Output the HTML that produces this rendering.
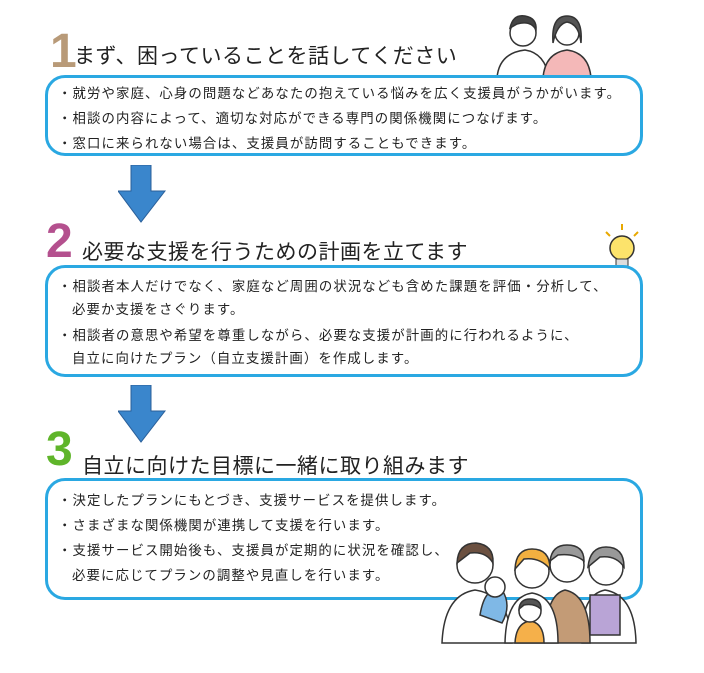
<!DOCTYPE html>
<html><head><meta charset="utf-8"><style>
body{margin:0;width:704px;height:673px;background:#fff;position:relative;overflow:hidden;font-family:"Liberation Sans","Noto Sans CJK JP",sans-serif;color:#222}
.t{position:absolute;font-size:21px;white-space:nowrap;letter-spacing:0.5px}
.n{position:absolute;font-weight:bold;font-size:48px;line-height:1;font-family:"Liberation Sans",sans-serif}
.box{position:absolute;left:45px;width:592px;border:3px solid #2aa8e2;border-radius:20px;background:#fff}
.l{position:absolute;font-size:13.4px;white-space:nowrap;letter-spacing:1.1px}
</style></head><body>
<div class="n" style="left:50px;top:28px;color:#b89a78">1</div>
<div class="t" style="left:74px;top:40px">まず、困っていることを話してください</div>
<svg style="position:absolute;left:495px;top:8px" width="100" height="72">
<g stroke="#333" stroke-width="1.5" fill="#fff">
<path d="M2 70 Q4 45 30 42 Q50 45 54 70Z"/><circle cx="28" cy="25" r="13"/><path d="M15 20 Q18 6 30 8 Q42 10 41 22 Q36 12 22 16Z" fill="#444"/>
<path d="M48 70 Q50 45 72 42 Q94 45 96 70Z" fill="#f4b8b8"/><circle cx="72" cy="25" r="12"/><path d="M58 35 Q56 8 72 8 Q88 8 86 35 Q84 16 72 14 Q62 16 58 35Z" fill="#555"/></g></svg>
<div class="box" style="top:75px;height:75px"></div>
<div class="l" style="left:58px;top:82px">・就労や家庭、心身の問題などあなたの抱えている悩みを広く支援員がうかがいます。</div>
<div class="l" style="left:58px;top:107px">・相談の内容によって、適切な対応ができる専門の関係機関につなげます。</div>
<div class="l" style="left:58px;top:132px">・窓口に来られない場合は、支援員が訪問することもできます。</div>
<svg style="position:absolute;left:118px;top:165px" width="50" height="60"><path d="M13 0H33V26H47L23 57L0 26H13Z" fill="#3a86cc" stroke="#2a5f99"/></svg>
<div class="n" style="left:46px;top:218px;color:#b4508e">2</div>
<div class="t" style="left:82px;top:236px">必要な支援を行うための計画を立てます</div>
<svg style="position:absolute;left:600px;top:222px" width="44" height="50"><g stroke="#e8a800" stroke-width="2" fill="none"><path d="M22 2V8M6 10L10 14M38 10L34 14"/></g><circle cx="22" cy="26" r="12" fill="#fce36b" stroke="#333" stroke-width="1.5"/><rect x="16" y="37" width="12" height="8" fill="#ddd" stroke="#333"/></svg>
<div class="box" style="top:265px;height:106px"></div>
<div class="l" style="left:58px;top:275px">・相談者本人だけでなく、家庭など周囲の状況なども含めた課題を評価・分析して、</div>
<div class="l" style="left:72px;top:298px">必要か支援をさぐります。</div>
<div class="l" style="left:58px;top:324px">・相談者の意思や希望を尊重しながら、必要な支援が計画的に行われるように、</div>
<div class="l" style="left:72px;top:347px">自立に向けたプラン（自立支援計画）を作成します。</div>
<svg style="position:absolute;left:118px;top:385px" width="50" height="60"><path d="M13 0H33V26H47L23 57L0 26H13Z" fill="#3a86cc" stroke="#2a5f99"/></svg>
<div class="n" style="left:46px;top:426px;color:#5fb52a">3</div>
<div class="t" style="left:82px;top:450px">自立に向けた目標に一緒に取り組みます</div>
<div class="box" style="top:478px;height:116px"></div>
<div class="l" style="left:58px;top:489px">・決定したプランにもとづき、支援サービスを提供します。</div>
<div class="l" style="left:58px;top:514px">・さまざまな関係機関が連携して支援を行います。</div>
<div class="l" style="left:58px;top:539px">・支援サービス開始後も、支援員が定期的に状況を確認し、</div>
<div class="l" style="left:72px;top:564px">必要に応じてプランの調整や見直しを行います。</div>
<svg style="position:absolute;left:440px;top:535px" width="205" height="110">
<g stroke="#333" stroke-width="1.5">
<path d="M2 108 Q4 60 35 55 Q70 60 72 108Z" fill="#fff"/><circle cx="35" cy="30" r="18" fill="#fff"/><path d="M17 28 Q18 8 36 8 Q54 10 53 28 Q46 16 30 18Z" fill="#6b5040"/>
<path d="M142 108 Q140 60 165 55 Q195 60 196 108Z" fill="#fff"/><rect x="150" y="60" width="30" height="40" fill="#b9a4d6"/><circle cx="166" cy="33" r="17" fill="#fff"/><path d="M148 32 Q150 12 166 12 Q184 12 184 32 Q176 20 160 22Z" fill="#999"/>
<path d="M105 108 Q105 60 125 55 Q150 60 150 108Z" fill="#c39b76"/><circle cx="127" cy="30" r="17" fill="#fff"/><path d="M110 26 Q112 10 127 10 Q144 10 144 26 Q134 18 118 20Z" fill="#999"/>
<path d="M65 108 Q66 62 92 58 Q118 62 118 108Z" fill="#fff"/><circle cx="92" cy="36" r="17" fill="#fff"/><path d="M75 34 Q76 14 92 14 Q110 14 110 34 Q100 22 84 24Z" fill="#f2b040"/>
<path d="M40 80 Q45 50 62 55 Q72 70 62 88Z" fill="#7fb8e6"/><circle cx="55" cy="52" r="10" fill="#fff"/>
<path d="M75 108 Q76 88 90 86 Q104 88 104 108Z" fill="#f5b04a"/><circle cx="90" cy="76" r="11" fill="#fff"/><path d="M79 74 Q80 64 90 64 Q101 64 101 74 Q94 68 84 70Z" fill="#555"/>
</g></svg>
</body></html>
